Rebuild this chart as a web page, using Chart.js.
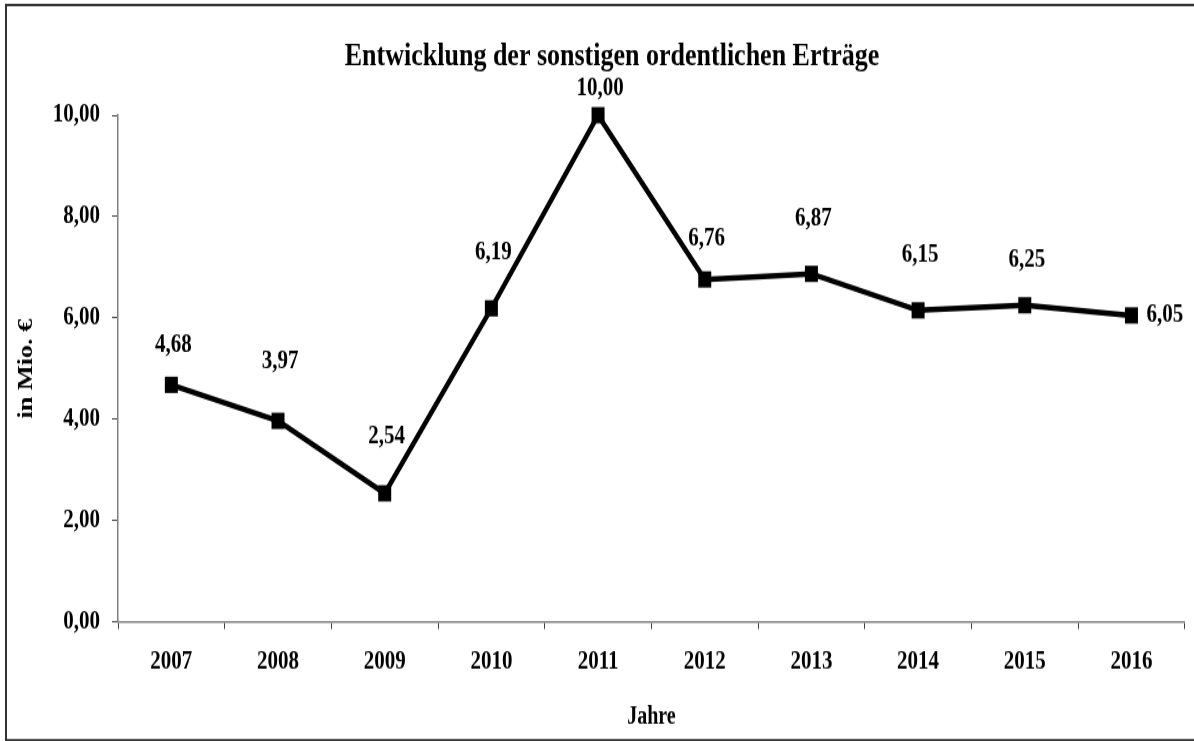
<!DOCTYPE html>
<html>
<head>
<meta charset="utf-8">
<script src="https://cdn.jsdelivr.net/npm/chart.js@4.4.1/dist/chart.umd.min.js"></script>
<style>
    html, body { margin: 0; padding: 0; background: #fff; overflow: hidden; }
    #wrap { position: absolute; left: 0; top: 0; width: 1194px; transform-origin: 0 0; }
</style>
</head>
<body>
<div id="wrap"><canvas id="chart"></canvas></div>
<script>
const years = ["2007", "2008", "2009", "2010", "2011", "2012", "2013", "2014", "2015", "2016"];
const ertraege = [4.68, 3.97, 2.54, 6.19, 10.00, 6.76, 6.87, 6.15, 6.25, 6.05];
const yTicks = [0, 2, 4, 6, 8, 10];

const chartTitle = "Entwicklung der sonstigen ordentlichen Erträge";
const yTitle = "in Mio. €";
const xTitle = "Jahre";

// how far each value label sits above its point (screen px), null = put it right of the point
const labelLift = [40, 60, 57, 56, 27, 41, 55, 55, 45, null];

// the original picture is stretched vertically, so draw flat and stretch the canvas
const STRETCH = 1.25;
const W = 1194;
const H = 741;
const wrap = document.getElementById("wrap");
wrap.style.height = `${H / STRETCH}px`;
wrap.style.transform = `scaleY(${STRETCH})`;

const FAMILY = "'Liberation Serif', 'Times New Roman', serif";
const font = (size) => ({ family: FAMILY, size, weight: "bold" });

function comma(v) {
    return Number(v).toFixed(2).replace(".", ",");
}

const frame = {
    id: "frame",
    afterDraw(chart) {
        const ctx = chart.ctx;
        ctx.save();
        ctx.strokeStyle = "#333";
        ctx.lineWidth = 2;
        ctx.strokeRect(6, 5 / STRETCH, W + 10, (739 - 5) / STRETCH);
        ctx.fillStyle = "#000";
        ctx.font = `bold 26px ${FAMILY}`;
        ctx.textAlign = "center";
        ctx.textBaseline = "middle";
        ctx.fillText(chartTitle, 612, 57 / STRETCH);
        ctx.restore();
    },
};

const valueLabels = {
    id: "valueLabels",
    afterDatasetsDraw(chart) {
        const ctx = chart.ctx;
        const meta = chart.getDatasetMeta(0);
        ctx.save();
        ctx.fillStyle = "#000";
        ctx.font = `bold 21px ${FAMILY}`;
        ctx.textBaseline = "middle";
        meta.data.forEach((pt, i) => {
            const text = comma(ertraege[i]);
            if (labelLift[i] === null) {
                ctx.textAlign = "left";
                ctx.fillText(text, pt.x + 15, pt.y);
            } else {
                ctx.textAlign = "center";
                ctx.fillText(text, pt.x + 2, pt.y - labelLift[i] / STRETCH);
            }
        });
        ctx.restore();
    },
};

new Chart(document.getElementById("chart"), {
    type: "line",
    data: {
        labels: years,
        datasets: [{
            data: ertraege,
            borderColor: "#000",
            borderWidth: 4.5,
            tension: 0,
            pointStyle: "rect",
            pointRadius: 9.2,
            pointBackgroundColor: "#000",
            pointBorderWidth: 0,
            clip: false,
        }],
    },
    options: {
        responsive: true,
        maintainAspectRatio: false,
        animation: false,
        layout: { padding: { top: 115 / STRETCH, right: 6, bottom: 0, left: 0 } },
        plugins: {
            legend: { display: false },
            tooltip: { enabled: false },
            title: { display: false },
        },
        scales: {
            x: {
                offset: true,
                grid: { offset: true, drawOnChartArea: false, tickLength: 7 / STRETCH, color: "#404040" },
                border: { color: "#808080", width: 1.5 },
                ticks: { color: "#000", font: font(21), padding: 14, maxRotation: 0, autoSkip: false },
                title: { display: true, text: xTitle, color: "#000", font: font(20), padding: { top: 8, bottom: 8 } },
                afterFit: (s) => { s.height = (H - 621) / STRETCH; },
            },
            y: {
                min: 0,
                max: 10,
                afterBuildTicks: (s) => { s.ticks = yTicks.map((v) => ({ value: v })); },
                ticks: { color: "#000", font: font(21), padding: 12, callback: (v) => comma(v) },
                grid: { drawOnChartArea: false, tickLength: 6, color: "#404040" },
                border: { color: "#808080", width: 1.5 },
                title: { display: true, text: yTitle, color: "#000", font: font(21), padding: { top: 14, bottom: 0 } },
                afterFit: (s) => { s.width = 118; },
            },
        },
    },
    plugins: [frame, valueLabels],
});
</script>
</body>
</html>
